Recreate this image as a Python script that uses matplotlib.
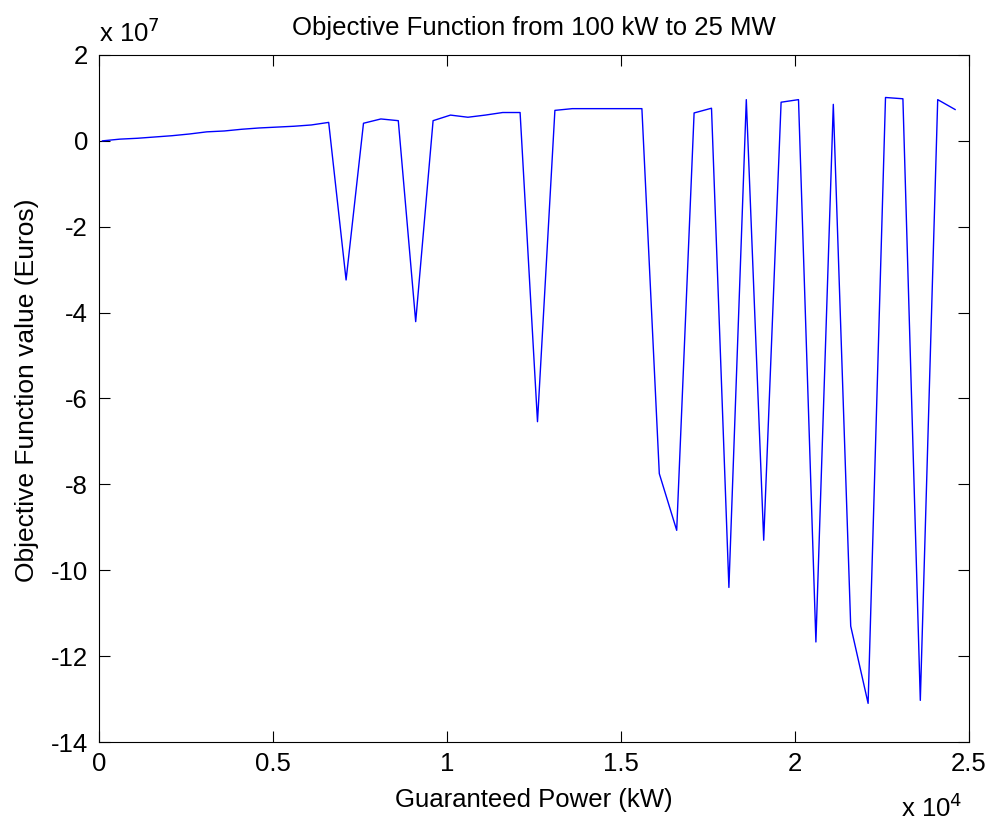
import numpy as np
import matplotlib
matplotlib.use('Agg')
import matplotlib.pyplot as plt
from matplotlib.ticker import FuncFormatter

# guaranteed power, 100 kW to 24.6 MW in 500 kW steps
power_kw = np.arange(100, 25000, 500)

objective_e7 = [
    0.00, 0.04, 0.06, 0.09, 0.12, 0.16, 0.21, 0.23, 0.27, 0.30,
    0.32, 0.34, 0.37, 0.43, -3.24, 0.41, 0.51, 0.47, -4.21, 0.47,
    0.60, 0.55, 0.60, 0.66, 0.66, -6.54, 0.71, 0.75, 0.75, 0.75,
    0.75, 0.75, -7.75, -9.07, 0.65, 0.76, -10.40, 0.96, -9.30, 0.90,
    0.96, -11.67, 0.85, -11.30, -13.10, 1.01, 0.98, -13.03, 0.96, 0.73,
]
objective_eur = np.array(objective_e7) * 1e7

plt.rcParams['font.family'] = ['Liberation Sans', 'DejaVu Sans']
fs = 18.5

fig = plt.figure(figsize=(9.88, 8.23), dpi=100)
ax = fig.add_axes([0.1002, 0.0984, 0.8806, 0.8348])

ax.plot(power_kw, objective_eur, color='#0000ff', linewidth=1.0)

ax.set_xlim(0, 2.5e4)
ax.set_ylim(-14e7, 2e7)
ax.set_xticks(np.arange(0, 2.51e4, 0.5e4))
ax.set_yticks(np.arange(-14e7, 2.1e7, 2e7))
ax.xaxis.set_major_formatter(FuncFormatter(lambda v, p: '%g' % (v / 1e4)))
ax.yaxis.set_major_formatter(FuncFormatter(lambda v, p: '%g' % (v / 1e7)))
ax.tick_params(direction='in', length=8, width=0.8, top=True, right=True,
               labelsize=fs)
ax.tick_params(axis='x', pad=7)
ax.tick_params(axis='y', pad=8)
for s in ax.spines.values():
    s.set_linewidth(0.8)

ax.text(0.5, 1.039, 'Objective Function from 100 kW to 25 MW', transform=ax.transAxes,
        fontsize=fs, ha='center', va='center')
ax.set_xlabel('Guaranteed Power (kW)', fontsize=fs, va='center')
ax.set_ylabel('Objective Function value (Euros)', fontsize=19, va='center')
ax.xaxis.set_label_coords(0.5, -0.084)
ax.yaxis.set_label_coords(-0.083, 0.512)

ax.text(0.0, 1.033, 'x 10$^7$', transform=ax.transAxes, fontsize=fs,
        ha='left', va='center')
ax.text(0.992, -0.096, 'x 10$^4$', transform=ax.transAxes, fontsize=fs,
        ha='right', va='center')

fig.savefig('out.png', dpi=100, facecolor='white')
